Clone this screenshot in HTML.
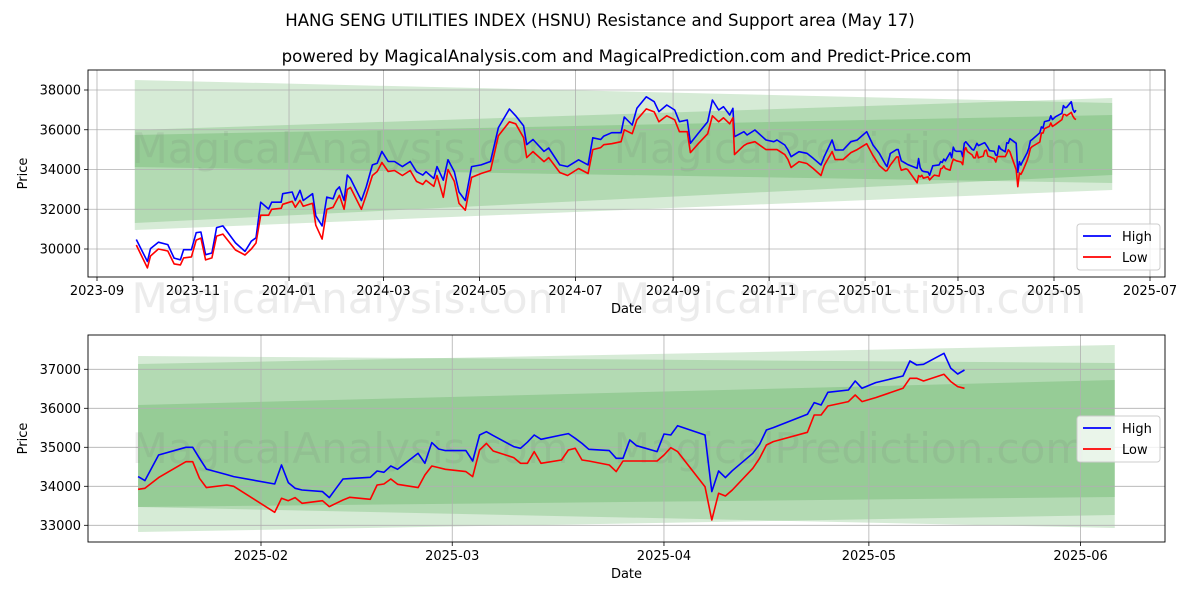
<!DOCTYPE html>
<html><head><meta charset="utf-8">
<style>
body{margin:0;background:#fff;}
svg{display:block;font-family:"DejaVu Sans","Liberation Sans",sans-serif;}
</style></head>
<body>
<svg id="chart" width="1200" height="600" viewBox="0 0 1200 600" xmlns="http://www.w3.org/2000/svg">
<rect width="1200" height="600" fill="#fff"/>
<text x="600" y="26" font-size="16.6" text-anchor="middle">HANG SENG UTILITIES INDEX (HSNU) Resistance and Support area (May 17)</text>
<text x="626.5" y="62" font-size="16.6" text-anchor="middle">powered by MagicalAnalysis.com and MagicalPrediction.com and Predict-Price.com</text>
<g id="top"></g>
<g id="bot"></g>
</svg>
<script>
// ---- data ----
const histDates = ["2023-09-26","2023-10-03","2023-10-05","2023-10-10","2023-10-16","2023-10-20","2023-10-24","2023-10-26","2023-10-31","2023-11-03","2023-11-06","2023-11-09","2023-11-13","2023-11-16","2023-11-20","2023-11-28","2023-12-04","2023-12-08","2023-12-11","2023-12-14","2023-12-19","2023-12-21","2023-12-27","2023-12-28","2024-01-03","2024-01-05","2024-01-08","2024-01-10","2024-01-16","2024-01-18","2024-01-22","2024-01-25","2024-01-29","2024-01-31","2024-02-02","2024-02-05","2024-02-07","2024-02-09","2024-02-16","2024-02-19","2024-02-23","2024-02-26","2024-02-29","2024-03-04","2024-03-08","2024-03-13","2024-03-18","2024-03-22","2024-03-26","2024-03-28","2024-04-02","2024-04-04","2024-04-08","2024-04-11","2024-04-15","2024-04-18","2024-04-22","2024-04-26","2024-05-02","2024-05-08","2024-05-13","2024-05-20","2024-05-24","2024-05-29","2024-05-31","2024-06-04","2024-06-11","2024-06-14","2024-06-21","2024-06-26","2024-07-03","2024-07-09","2024-07-12","2024-07-17","2024-07-19","2024-07-24","2024-07-30","2024-08-01","2024-08-06","2024-08-09","2024-08-15","2024-08-20","2024-08-23","2024-08-28","2024-09-02","2024-09-05","2024-09-10","2024-09-12","2024-09-17","2024-09-23","2024-09-26","2024-09-30","2024-10-03","2024-10-07","2024-10-09","2024-10-10","2024-10-16","2024-10-18","2024-10-23","2024-10-30","2024-11-04","2024-11-06","2024-11-11","2024-11-13","2024-11-15","2024-11-20","2024-11-25","2024-11-29","2024-12-04","2024-12-06","2024-12-11","2024-12-13","2024-12-18","2024-12-23","2024-12-27","2025-01-02","2025-01-06","2025-01-10"];
const histHigh = [30478,29371,30020,30342,30221,29542,29457,29965,29965,30820,30855,29713,29800,31077,31162,30307,29879,30392,30563,32355,32013,32355,32355,32782,32868,32440,32953,32440,32782,31670,31162,32611,32525,32953,33124,32440,33718,33547,32440,33120,34231,34317,34911,34403,34403,34146,34403,33890,33718,33890,33547,34146,33462,34488,33890,32868,32440,34146,34231,34403,36108,37044,36702,36194,35253,35509,34911,35082,34231,34146,34488,34231,35595,35509,35680,35851,35851,36642,36239,37077,37660,37409,36906,37245,36994,36406,36490,35318,35821,36406,37497,36994,37161,36742,37077,35650,35902,35736,35987,35484,35400,35484,35233,34981,34645,34897,34815,34564,34226,34645,35484,34981,34981,35400,35484,35902,35233,34815];
const histLow = [30200,29050,29650,30000,29900,29250,29200,29550,29600,30450,30550,29450,29550,30650,30750,29950,29700,30000,30300,31700,31700,32000,32050,32250,32400,32100,32450,32150,32300,31200,30500,32000,32100,32400,32700,32000,33000,33100,32000,32700,33700,33900,34350,33900,33950,33700,33950,33400,33250,33450,33150,33700,32600,34000,33400,32300,31950,33600,33800,33950,35700,36400,36300,35600,34600,34900,34400,34600,33850,33700,34050,33800,35000,35100,35250,35300,35400,36000,35800,36500,37050,36900,36400,36700,36500,35900,35900,34850,35300,35800,36700,36400,36600,36300,36600,34750,35200,35300,35400,35000,35000,35000,34750,34500,34100,34400,34300,34050,33700,34200,34900,34500,34500,34850,35000,35300,34700,34200];
const recentDates = ["2025-01-14","2025-01-15","2025-01-17","2025-01-21","2025-01-22","2025-01-23","2025-01-24","2025-01-27","2025-01-28","2025-02-03","2025-02-04","2025-02-05","2025-02-06","2025-02-07","2025-02-10","2025-02-11","2025-02-12","2025-02-13","2025-02-14","2025-02-17","2025-02-18","2025-02-19","2025-02-20","2025-02-21","2025-02-24","2025-02-25","2025-02-26","2025-02-27","2025-02-28","2025-03-03","2025-03-04","2025-03-05","2025-03-06","2025-03-07","2025-03-10","2025-03-11","2025-03-12","2025-03-13","2025-03-14","2025-03-17","2025-03-18","2025-03-19","2025-03-20","2025-03-21","2025-03-24","2025-03-25","2025-03-26","2025-03-27","2025-03-28","2025-03-31","2025-04-01","2025-04-02","2025-04-03","2025-04-07","2025-04-08","2025-04-09","2025-04-10","2025-04-11","2025-04-14","2025-04-15","2025-04-16","2025-04-17","2025-04-22","2025-04-23","2025-04-24","2025-04-25","2025-04-28","2025-04-29","2025-04-30","2025-05-02","2025-05-06","2025-05-07","2025-05-08","2025-05-09","2025-05-12","2025-05-13","2025-05-14","2025-05-15"];
const recentHigh = [34248,34145,34803,35000,35000,34718,34440,34300,34250,34060,34547,34094,33950,33906,33863,33709,33950,34188,34197,34231,34393,34359,34521,34436,34846,34590,35120,34957,34915,34915,34650,35316,35400,35300,35017,34975,35130,35316,35205,35316,35350,35230,35100,34950,34915,34718,34718,35188,35040,34890,35342,35316,35555,35316,33863,34393,34222,34400,34846,35077,35444,35504,35846,36145,36085,36410,36470,36700,36513,36658,36829,37213,37111,37128,37410,37026,36880,36983];
const recentLow = [33923,33950,34222,34632,34632,34205,33966,34034,34000,33333,33692,33632,33709,33564,33632,33479,33564,33650,33718,33667,34034,34060,34188,34051,33966,34290,34521,34479,34436,34376,34248,34932,35100,34906,34735,34590,34590,34890,34590,34675,34932,34975,34675,34650,34547,34376,34650,34650,34650,34650,34803,34991,34890,33991,33137,33820,33752,33906,34462,34718,35060,35145,35385,35829,35829,36060,36171,36342,36171,36274,36513,36769,36769,36700,36872,36684,36556,36513];
// bands: [startTop, startBottom, endTop, endBottom]
const bandStartDate = "2023-09-25", bandEndDate = "2025-06-07";
const topBandA = [38503,34126,37346,33321];
const topBandB = [35987,30956,37597,32969];
const topBandC = [35736,31308,36742,33723];
const botBandStart = "2025-01-14", botBandEnd = "2025-06-06";
const botBandA = [37341,32828,37162,33264];
const botBandB = [37136,33469,37623,32931];
const botBandC = [36085,33469,36726,33726];
const topYTicks = [30000,32000,34000,36000,38000];
const topXTicks = ["2023-09","2023-11","2024-01","2024-03","2024-05","2024-07","2024-09","2024-11","2025-01","2025-03","2025-05","2025-07"];
const botYTicks = [33000,34000,35000,36000,37000];
const botXTicks = ["2025-02","2025-03","2025-04","2025-05","2025-06"];

const NS="http://www.w3.org/2000/svg";
function mk(tag,attrs,parent){const e=document.createElementNS(NS,tag);for(const k in attrs)e.setAttribute(k,attrs[k]);parent.appendChild(e);return e;}
function days(s,ref){const p=s.split("-").map(Number);const r=ref.split("-").map(Number);return (Date.UTC(p[0],p[1]-1,p[2]||1)-Date.UTC(r[0],r[1]-1,r[2]||1))/86400000;}

function panel(g,cfg){
  const {x0,x1,y0,y1,xs,ys,bands,bs,be,dates,hi,lo,yt,xt,legY,wm}=cfg;
  mk("rect",{x:x0,y:y0,width:x1-x0,height:y1-y0,fill:"#fff"},g);
  bands.forEach((b,i)=>{
    const xa=xs(bs),xb=xs(be);
    const p=mk("polygon",{points:`${xa},${ys(b[0])} ${xb},${ys(b[2])} ${xb},${ys(b[3])} ${xa},${ys(b[1])}`,fill:"rgb(0,128,0)","fill-opacity":0.16},g);
    
    
  });
  yt.forEach(v=>{const y=ys(v);
    const l=mk("line",{x1:x0,x2:x1,y1:y,y2:y,stroke:"#b0b0b0","stroke-width":0.8},g);
    
    mk("line",{x1:x0-4,x2:x0,y1:y,y2:y,stroke:"#000","stroke-width":0.8},g);
    const t=mk("text",{x:x0-7,y:y+4.5,"font-size":13,"text-anchor":"end"},g);t.textContent=v;
    
  });
  xt.forEach(s=>{const x=xs(s+"-01");
    const l=mk("line",{x1:x,x2:x,y1:y0,y2:y1,stroke:"#b0b0b0","stroke-width":0.8},g);
    
    mk("line",{x1:x,x2:x,y1:y1,y2:y1+4,stroke:"#000","stroke-width":0.8},g);
    const t=mk("text",{x:x,y:y1+18,"font-size":13,"text-anchor":"middle"},g);t.textContent=s;
    
  });
  wm.forEach(w=>{const t=mk("text",{x:w[0],y:w[1],"font-size":42,"text-anchor":"middle",fill:"rgba(120,120,120,0.14)"},g);t.textContent=w[2];
    });
  [[hi,"#0000ff","high-line"],[lo,"#ff0000","low-line"]].forEach(([arr,c,n])=>{
    const pts=arr.map((v,i)=>`${xs(dates[i]).toFixed(1)},${ys(v).toFixed(1)}`).join(" ");
    const p=mk("polyline",{points:pts,fill:"none",stroke:c,"stroke-width":1.6,"stroke-linejoin":"round"},g);
    
  });
  const fr=mk("rect",{x:x0,y:y0,width:x1-x0,height:y1-y0,fill:"none",stroke:"#000","stroke-width":0.9},g);
  
  const lg=mk("g",{},g);
  
  mk("rect",{x:1077,y:legY,width:83,height:46,rx:3,fill:"rgba(255,255,255,0.8)",stroke:"#ccc"},lg);
  mk("line",{x1:1083,x2:1111,y1:legY+12,y2:legY+12,stroke:"#0000ff","stroke-width":1.8},lg);
  const t1=mk("text",{x:1122,y:legY+17,"font-size":13},lg);t1.textContent="High";
  
  mk("line",{x1:1083,x2:1111,y1:legY+33,y2:legY+33,stroke:"#ff0000","stroke-width":1.8},lg);
  const t2=mk("text",{x:1122,y:legY+38,"font-size":13},lg);t2.textContent="Low";
  
  const xl=mk("text",{x:(x0+x1)/2,y:y1+36,"font-size":13,"text-anchor":"middle"},g);xl.textContent="Date";
  
  const yc=(y0+y1)/2;
  const yl=mk("text",{x:27,y:yc,"font-size":13,"text-anchor":"middle",transform:`rotate(-90 27 ${yc})`},g);yl.textContent="Price";
  
}

const allDates=histDates.concat(recentDates), allHigh=histHigh.concat(recentHigh), allLow=histLow.concat(recentLow);
panel(document.getElementById("top"),{x0:88,x1:1165,y0:70,y1:277,
  xs:d=>97+days(d,"2023-09-01")*1.574, ys:v=>249-(v-30000)*0.019875,
  bands:[topBandA,topBandB,topBandC],bs:bandStartDate,be:bandEndDate,
  dates:allDates,hi:allHigh,lo:allLow,yt:topYTicks,xt:topXTicks,legY:224,
  wm:[[350,163,"MagicalAnalysis.com"],[850,163,"MagicalPrediction.com"],[350,313,"MagicalAnalysis.com"],[850,313,"MagicalPrediction.com"]]});
panel(document.getElementById("bot"),{x0:88,x1:1165,y0:335,y1:542,
  xs:d=>261+days(d,"2025-02-01")*6.83, ys:v=>369.3-(v-37000)*0.039,
  bands:[botBandA,botBandB,botBandC],bs:botBandStart,be:botBandEnd,
  dates:recentDates,hi:recentHigh,lo:recentLow,yt:botYTicks,xt:botXTicks,legY:416,
  wm:[[350,463,"MagicalAnalysis.com"],[850,463,"MagicalPrediction.com"]]});
</script>
</body></html>
